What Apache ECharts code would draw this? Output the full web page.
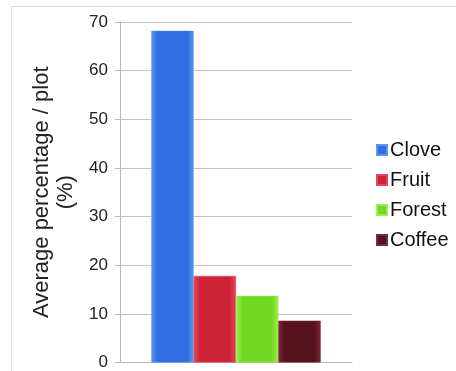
<!DOCTYPE html>
<html>
<head>
<meta charset="utf-8">
<script src="https://cdn.jsdelivr.net/npm/echarts@6/dist/echarts.min.js"></script>
<style>
  html, body { margin: 0; padding: 0; background: #fff; }
  #chart { width: 456px; height: 371px; }
</style>
</head>
<body>
<div id="chart"></div>
<script>
// Land-use groups and their average share per plot (%)
const groups = ['Clove', 'Fruit', 'Forest', 'Coffee'];
const averages = [68.2, 17.8, 13.7, 8.6];
const yTicks = [0, 10, 20, 30, 40, 50, 60, 70];

// Base colours with a lighter tint for the bar highlights
const baseColors = ['#2f6fe3', '#cf2237', '#72d824', '#56121f'];
const lightColors = ['#5b93f2', '#e0475b', '#9cf04e', '#7a2a38'];

function barFill(i) {
  return new echarts.graphic.LinearGradient(0, 0, 1, 0, [
    { offset: 0, color: lightColors[i] },
    { offset: 0.15, color: baseColors[i] },
    { offset: 0.85, color: baseColors[i] },
    { offset: 1, color: lightColors[i] }
  ]);
}

const series = groups.map((name, i) => ({
  name: name,
  type: 'bar',
  data: [averages[i]],
  barGap: '0%',
  barCategoryGap: '27%',
  itemStyle: { color: barFill(i), borderColor: lightColors[i], borderWidth: 0.5 }
}));

const font = 'Liberation Sans, Arial, sans-serif';

const chart = echarts.init(document.getElementById('chart'));
chart.setOption({
  animation: false,
  backgroundColor: '#fff',
  color: baseColors,
  graphic: [{
    type: 'rect',
    shape: { x: 11.5, y: 6.5, width: 460, height: 380 },
    style: { fill: 'none', stroke: '#dcdcdc', lineWidth: 1 },
    silent: true
  }],
  grid: { left: 120, right: 104, top: 22, bottom: 7, containLabel: false },
  legend: {
    orient: 'vertical',
    left: 371,
    top: 135,
    itemWidth: 10,
    itemHeight: 10,
    itemGap: 10,
    icon: 'rect',
    textStyle: { fontFamily: font, fontSize: 20, color: '#111', padding: [0, 0, 0, -2] },
    data: groups
  },
  xAxis: {
    type: 'category',
    data: [''],
    axisLine: { lineStyle: { color: '#b8b8b8' } },
    axisTick: { show: false },
    axisLabel: { show: false }
  },
  yAxis: {
    type: 'value',
    min: yTicks[0],
    max: yTicks[yTicks.length - 1],
    interval: 10,
    name: 'Average percentage / plot\n(%)',
    nameLocation: 'middle',
    nameGap: 42,
    nameTextStyle: { fontFamily: font, fontSize: 22, color: '#222', lineHeight: 24 },
    axisLine: { show: true, lineStyle: { color: '#b8b8b8' } },
    axisTick: { show: true, length: 5, lineStyle: { color: '#b8b8b8' } },
    axisLabel: { fontFamily: font, fontSize: 17, color: '#222', margin: 12 },
    splitLine: { lineStyle: { color: '#c4c4c4' } }
  },
  series: series
});
</script>
</body>
</html>
